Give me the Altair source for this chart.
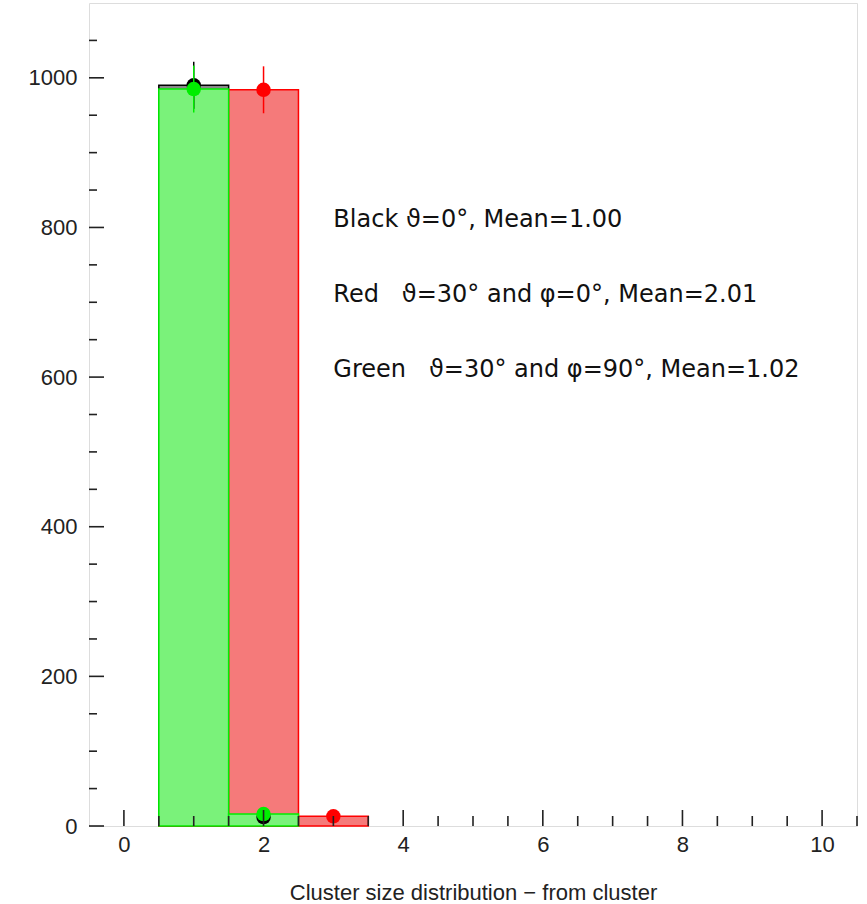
import math
import altair as alt
import pandas as pd

# Histogram contents per cluster-size bin (bins centred on integers, width 1)
bins = [1, 2, 3]
black_counts = [990, 12, 0]
red_counts = [3, 984, 13]
green_counts = [985, 16, 0]

series_names = ["Black", "Red", "Green"]
line_colors = {"Black": "#000000", "Red": "#ff0000", "Green": "#00ee00"}
fill_colors = {"Black": "#8a8a8a", "Red": "#f57a7a", "Green": "#7af27a"}

# Axis tick positions
x_major = [0, 2, 4, 6, 8, 10]
x_minor = [0.5, 1, 1.5, 2.5, 3, 3.5, 4.5, 5, 5.5, 6.5, 7, 7.5, 8.5, 9, 9.5, 10.5]
y_major = [0, 200, 400, 600, 800, 1000]
y_minor = [50, 100, 150, 250, 300, 350, 450, 500, 550, 650, 700, 750,
           850, 900, 950, 1050]

# Legend-style annotation lines (non-breaking spaces keep the gaps)
NB = "\u00a0"
note_lines = [
    "Black ϑ=0°, Mean=1.00",
    f"Red{NB}{NB}{NB}ϑ=30° and φ=0°, Mean=2.01",
    f"Green{NB}{NB}{NB}ϑ=30° and φ=90°, Mean=1.02",
]
note_x = [3, 3, 3]
note_y = [800, 700, 600]

W, H = 768, 823
FONT = "Liberation Sans"

rows = []
for name, counts in zip(series_names, [black_counts, red_counts, green_counts]):
    for b, c in zip(bins, counts):
        if c <= 0:
            continue
        err = math.sqrt(c)
        rows.append({"series": name, "bin": b, "lo": b - 0.5, "hi": b + 0.5,
                     "count": c, "low": c - err, "high": c + err})
hist = pd.DataFrame(rows)

xs = alt.Scale(domain=[-0.5, 10.5], nice=False, zero=False)
ys = alt.Scale(domain=[0, 1100], nice=False, zero=False)

x_axis = alt.Axis(values=x_major, format="d", ticks=False, tickSize=0, domain=False,
                  grid=False, labelFont=FONT, labelFontSize=22, labelColor="#222222",
                  labelPadding=8, title="Cluster size distribution − from cluster",
                  titleFont=FONT, titleFontSize=22, titleFontWeight="normal",
                  titleColor="#222222", titlePadding=27)
y_axis = alt.Axis(values=y_major, format="d", ticks=False, tickSize=0, domain=False,
                  grid=False, labelFont=FONT, labelFontSize=22, labelColor="#222222",
                  labelPadding=12, title=None)

base = alt.Chart(hist)


def bars(name):
    return base.transform_filter(alt.datum.series == name).mark_rect(
        fill=fill_colors[name], stroke=line_colors[name], strokeWidth=1.5
    ).encode(
        x=alt.X("lo:Q", scale=xs, axis=x_axis),
        x2="hi:Q",
        y=alt.Y("count:Q", scale=ys, axis=y_axis),
        y2=alt.Y2(datum=0),
    )


def errors(name):
    return base.transform_filter(
        (alt.datum.series == name) & (alt.datum.count >= 5)
    ).mark_rule(color=line_colors[name], strokeWidth=1.5).encode(
        x=alt.X("bin:Q", scale=xs), y=alt.Y("low:Q", scale=ys), y2="high:Q"
    )


def markers(name):
    return base.transform_filter(
        (alt.datum.series == name) & (alt.datum.count >= 5)
    ).mark_point(shape="circle", filled=True, size=210, opacity=1,
                 color=line_colors[name]).encode(
        x=alt.X("bin:Q", scale=xs), y=alt.Y("count:Q", scale=ys)
    )


xmaj = alt.Chart(pd.DataFrame({"v": x_major})).mark_rule(
    color="#222222", strokeWidth=1.6).encode(
    x=alt.X("v:Q", scale=xs), y=alt.value(H), y2=alt.value(H - 16))
xmin = alt.Chart(pd.DataFrame({"v": x_minor})).mark_rule(
    color="#222222", strokeWidth=1.6).encode(
    x=alt.X("v:Q", scale=xs), y=alt.value(H), y2=alt.value(H - 10))
ymaj = alt.Chart(pd.DataFrame({"v": y_major})).mark_rule(
    color="#222222", strokeWidth=1.6).encode(
    y=alt.Y("v:Q", scale=ys), x=alt.value(0), x2=alt.value(15))
ymin = alt.Chart(pd.DataFrame({"v": y_minor})).mark_rule(
    color="#222222", strokeWidth=1.6).encode(
    y=alt.Y("v:Q", scale=ys), x=alt.value(0), x2=alt.value(8))

notes = alt.Chart(pd.DataFrame({"t": note_lines, "x": note_x, "y": note_y})).mark_text(
    align="left", baseline="alphabetic", font="DejaVu Sans", fontSize=24,
    color="#111111"
).encode(x=alt.X("x:Q", scale=xs), y=alt.Y("y:Q", scale=ys), text="t:N")

layers = [bars(n) for n in series_names]
for n in series_names:
    layers.append(errors(n))
    layers.append(markers(n))
layers += [xmaj, xmin, ymaj, ymin, notes]

chart = alt.layer(*layers).properties(
    width=W, height=H,
    autosize=alt.AutoSizeParams(type="none"),
    padding={"left": 89, "top": 3, "right": 10, "bottom": 78},
).configure_view(stroke="#222222", strokeWidth=2).configure(background="white")

chart.save("out.html", embed_options={"renderer": "svg", "actions": False})
